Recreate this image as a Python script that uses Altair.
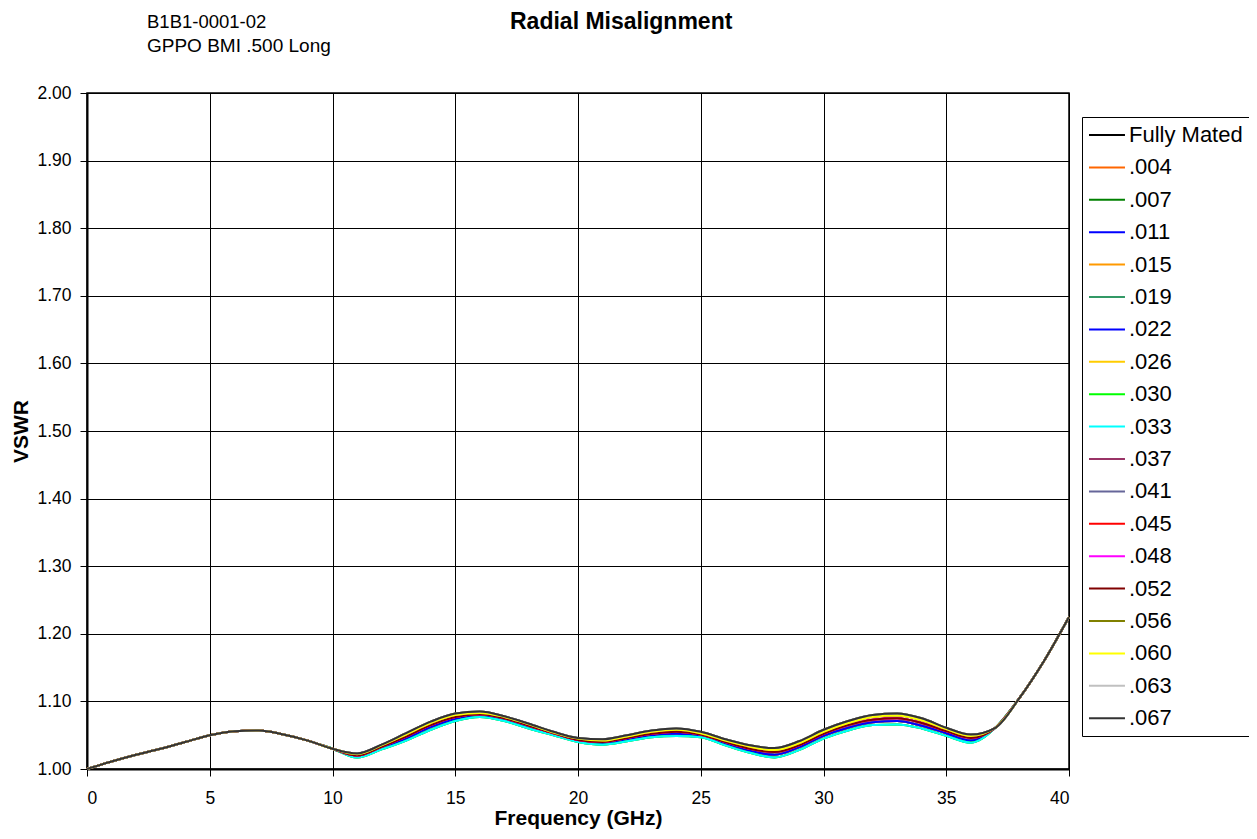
import altair as alt
import pandas as pd

# ---------------- data ----------------
freq_ghz = list(range(0, 41))

series_names = ["Fully Mated", ".004", ".007", ".011", ".015", ".019", ".022", ".026",
                ".030", ".033", ".037", ".041", ".045", ".048", ".052", ".056",
                ".060", ".063", ".067"]
series_colors = ["#000000", "#FF6600", "#008000", "#0000FF", "#FF9900", "#339966",
                 "#0000FF", "#FFCC00", "#00FF00", "#00FFFF", "#993366", "#666699",
                 "#FF0000", "#FF00FF", "#800000", "#808000", "#FFFF00", "#C0C0C0",
                 "#333333"]

# 0..10 GHz (all settings coincide)
vswr_head = [1.000, 1.011, 1.021, 1.030, 1.040, 1.050, 1.056, 1.057, 1.051, 1.042, 1.030]
# 37..40 GHz (all settings coincide)
vswr_tail = [1.061, 1.106, 1.161, 1.225]

vswr_top = [1.023, 1.036, 1.053, 1.070, 1.082, 1.085, 1.078, 1.067, 1.055, 1.046,
            1.044, 1.050, 1.057, 1.060, 1.055, 1.044, 1.035, 1.031, 1.041, 1.058,
            1.071, 1.080, 1.082, 1.075, 1.061, 1.051]
vswr_upper = [1.022, 1.035, 1.051, 1.068, 1.080, 1.083, 1.077, 1.066, 1.054, 1.045,
              1.042, 1.048, 1.055, 1.058, 1.053, 1.042, 1.033, 1.028, 1.038, 1.055,
              1.068, 1.077, 1.079, 1.072, 1.059, 1.049]
vswr_mid = [1.020, 1.033, 1.048, 1.065, 1.077, 1.081, 1.075, 1.064, 1.053, 1.043,
            1.040, 1.046, 1.052, 1.055, 1.051, 1.040, 1.030, 1.025, 1.035, 1.052,
            1.065, 1.073, 1.075, 1.068, 1.056, 1.046]
vswr_lower = [1.019, 1.031, 1.045, 1.062, 1.074, 1.079, 1.073, 1.062, 1.051, 1.042,
              1.038, 1.044, 1.050, 1.052, 1.049, 1.038, 1.027, 1.021, 1.032, 1.049,
              1.061, 1.069, 1.071, 1.064, 1.053, 1.042]
vswr_bottom = [1.017, 1.029, 1.042, 1.058, 1.071, 1.077, 1.071, 1.060, 1.050, 1.040,
               1.036, 1.041, 1.047, 1.049, 1.047, 1.035, 1.024, 1.017, 1.028, 1.045,
               1.057, 1.065, 1.066, 1.060, 1.049, 1.039]

series_level = {
    "Fully Mated": vswr_top, ".067": vswr_top, ".063": vswr_top,
    ".060": vswr_upper, ".056": vswr_upper, ".026": vswr_upper,
    ".045": vswr_mid, ".048": vswr_mid, ".052": vswr_mid, ".037": vswr_mid, ".041": vswr_mid,
    ".011": vswr_lower, ".022": vswr_lower, ".015": vswr_lower, ".004": vswr_lower, ".007": vswr_lower,
    ".033": vswr_bottom, ".030": vswr_bottom, ".019": vswr_bottom,
}

x_ticks = [0, 5, 10, 15, 20, 25, 30, 35, 40]
y_ticks = [1.0, 1.1, 1.2, 1.3, 1.4, 1.5, 1.6, 1.7, 1.8, 1.9, 2.0]

rows = []
for i, name in enumerate(series_names):
    vals = vswr_head + series_level[name] + vswr_tail
    for f, v in zip(freq_ghz, vals):
        rows.append({"series": name, "freq": f, "vswr": v, "idx": i})
df = pd.DataFrame(rows)

FONT = "Liberation Sans"

lines = alt.Chart(df).mark_line(strokeWidth=2, interpolate="monotone").encode(
    x=alt.X("freq:Q",
            scale=alt.Scale(domain=[0, 40], nice=False, zero=False),
            axis=alt.Axis(values=x_ticks, title="Frequency (GHz)", format="d",
                          labelPadding=13, titlePadding=1)),
    y=alt.Y("vswr:Q",
            scale=alt.Scale(domain=[1.0, 2.0], nice=False, zero=False),
            axis=alt.Axis(values=y_ticks, title="VSWR", format=".2f",
                          labelPadding=9, titlePadding=5)),
    color=alt.Color("series:N",
                    scale=alt.Scale(domain=series_names, range=series_colors),
                    legend=alt.Legend(orient="none", legendX=995, legendY=24,
                                      title=None, symbolType="M-1,0H2.27",
                                      symbolSize=484, symbolStrokeWidth=2,
                                      labelFontSize=22, labelFont=FONT,
                                      labelColor="black", labelLimit=400,
                                      strokeColor="black", fillColor="white",
                                      padding=6, labelOffset=17, rowPadding=9.4)),
    order=alt.Order("idx:Q"),
)

sub1 = alt.Chart(pd.DataFrame({"t": ["B1B1-0001-02"]})).mark_text(
    align="left", baseline="middle", fontSize=18.5, font=FONT, color="black"
).encode(text="t:N", x=alt.value(60), y=alt.value(-71))
sub2 = alt.Chart(pd.DataFrame({"t": ["GPPO BMI .500 Long"]})).mark_text(
    align="left", baseline="middle", fontSize=19, font=FONT, color="black"
).encode(text="t:N", x=alt.value(60), y=alt.value(-47))
title = alt.Chart(pd.DataFrame({"t": ["Radial Misalignment"]})).mark_text(
    align="left", baseline="middle", fontSize=23, fontWeight="bold", font=FONT, color="black"
).encode(text="t:N", x=alt.value(423), y=alt.value(-71))

chart = alt.layer(lines, sub1, sub2, title).properties(
    width=982, height=676,
    autosize=alt.AutoSizeParams(type="none"),
    padding={"left": 79, "top": 85, "right": 180, "bottom": 62},
).configure_view(
    stroke="black", strokeWidth=1.5
).configure_axis(
    labelFont=FONT, labelFontSize=17.5, labelColor="black",
    titleFont=FONT, titleFontSize=21, titleFontWeight="bold", titleColor="black",
    tickColor="black", tickSize=7, tickWidth=1,
    domainColor="black", domainWidth=2,
    gridColor="black", gridWidth=1, gridOpacity=1,
)

chart.save("out.html", embed_options={"renderer": "svg", "actions": False})
